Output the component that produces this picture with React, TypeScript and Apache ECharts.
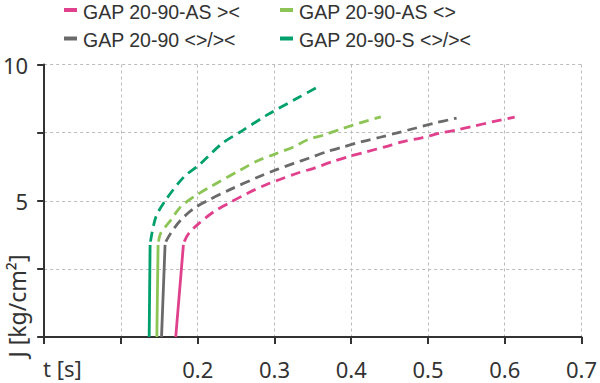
import React, { useEffect, useRef } from "react";
import * as echarts from "echarts";

const FONT = "Noto Sans";
const LEGEND_FONT = "Liberation Sans";

const NAME_PINK = "GAP 20-90-AS ><";
const NAME_LIGHT = "GAP 20-90-AS <>";
const NAME_GRAY = "GAP 20-90 <>/><";
const NAME_GREEN = "GAP 20-90-S <>/><";

const COLOR_PINK = "#e0408c";
const COLOR_LIGHT = "#8cc556";
const COLOR_GRAY = "#6a6a6a";
const COLOR_GREEN = "#00a06c";

const xTicks = [0, 0.1, 0.2, 0.3, 0.4, 0.5, 0.6, 0.7];
const yLabelled = [5, 10];

const greenSolid = [[0.1368, 0], [0.138, 3.38]];
const greenDashed = [
  [0.1385, 3.5], [0.1455, 4.4], [0.1584, 5.03], [0.1822, 5.88], [0.2017, 6.31],
  [0.2321, 7.11], [0.2558, 7.53], [0.2905, 8.15], [0.3295, 8.76], [0.3575, 9.19],
];

const lightSolid = [[0.1468, 0], [0.1484, 3.38]];
const lightDashed = [
  [0.149, 3.5], [0.1519, 3.81], [0.1649, 4.29], [0.1779, 4.78], [0.1952, 5.15],
  [0.2169, 5.52], [0.2558, 6.13], [0.2775, 6.46], [0.3013, 6.72], [0.3251, 6.98],
  [0.3425, 7.23], [0.364, 7.41], [0.39, 7.66], [0.4117, 7.86], [0.4386, 8.08],
];

const graySolid = [[0.1529, 0], [0.1575, 3.38]];
const grayDashed = [
  [0.1585, 3.5], [0.1649, 3.81], [0.1779, 4.29], [0.1952, 4.72], [0.2147, 5.03],
  [0.2406, 5.39], [0.2796, 5.88], [0.3035, 6.15], [0.3251, 6.37], [0.3445, 6.56],
  [0.3684, 6.8], [0.39, 6.98], [0.4139, 7.17], [0.4377, 7.33], [0.4614, 7.5],
  [0.4831, 7.66], [0.5069, 7.84], [0.5373, 8.03],
];

const pinkSolid = [[0.1714, 0], [0.1814, 3.38]];
const pinkDashed = [
  [0.1825, 3.5], [0.1887, 3.81], [0.2017, 4.17], [0.2212, 4.6], [0.2406, 4.91],
  [0.2645, 5.27], [0.2883, 5.58], [0.3078, 5.79], [0.3295, 6.01], [0.351, 6.19],
  [0.3749, 6.43], [0.3965, 6.62], [0.4204, 6.8], [0.4442, 6.98], [0.4679, 7.17],
  [0.4918, 7.31], [0.5156, 7.48], [0.5373, 7.6], [0.561, 7.75], [0.5848, 7.9],
  [0.613, 8.07],
];

// legend entries: [name, colour, column, row]
const legendItems: [string, string, number, number][] = [
  [NAME_PINK, COLOR_PINK, 0, 0],
  [NAME_LIGHT, COLOR_LIGHT, 1, 0],
  [NAME_GRAY, COLOR_GRAY, 0, 1],
  [NAME_GREEN, COLOR_GREEN, 1, 1],
];

function solid(name: string, color: string, data: number[][]) {
  return {
    type: "line",
    name,
    data,
    symbol: "none",
    itemStyle: { color },
    lineStyle: { color, width: 2.8, type: "solid" },
    z: 3,
  };
}

function dashed(name: string, color: string, data: number[][]) {
  return {
    type: "line",
    name,
    data,
    symbol: "none",
    smooth: 0.3,
    itemStyle: { color },
    lineStyle: { color, width: 2.8, type: [10, 6] },
    z: 3,
  };
}

export default function App() {
  const ref = useRef<HTMLDivElement>(null);
  useEffect(() => {
    if (!ref.current) return;
    const chart = echarts.init(ref.current, undefined, { renderer: "svg" });

    const colX = [64, 280];
    const rowY = [11.5, 40];
    const legendGraphics: any[] = [];
    legendItems.forEach(([name, color, c, r]) => {
      legendGraphics.push({
        type: "rect",
        shape: { x: colX[c], y: rowY[r] - 3.5, width: 13, height: 4 },
        style: { fill: color },
      });
      legendGraphics.push({
        type: "text",
        x: colX[c] + 19,
        y: rowY[r],
        style: {
          text: name,
          font: `19.5px "${LEGEND_FONT}"`,
          fill: "#333",
          verticalAlign: "middle",
        },
      });
    });

    chart.setOption({
      animation: false,
      backgroundColor: "#ffffff",
      textStyle: { fontFamily: FONT },
      grid: { left: 43, right: 18, top: 64.5, bottom: 46, containLabel: false },
      xAxis: {
        type: "value",
        min: xTicks[0],
        max: xTicks[xTicks.length - 1],
        interval: 0.1,
        axisLine: { show: true, lineStyle: { color: "#333", width: 2 } },
        axisTick: { show: true, length: 7, lineStyle: { color: "#333", width: 2 } },
        axisLabel: {
          margin: 21,
          fontSize: 22,
          fontFamily: FONT,
          color: "#333",
          formatter: (v: number) => (v < 0.15 ? "" : v.toFixed(1)),
        },
        splitLine: { show: true, lineStyle: { color: "#bbbbbb", width: 1, type: [3, 3] } },
      },
      yAxis: {
        type: "value",
        min: 0,
        max: 10,
        interval: 2.5,
        axisLine: { show: true, lineStyle: { color: "#333", width: 2 } },
        axisTick: { show: true, length: 7, lineStyle: { color: "#333", width: 2 } },
        axisLabel: {
          margin: 16,
          fontSize: 22,
          fontFamily: FONT,
          color: "#333",
          formatter: (v: number) => (yLabelled.indexOf(v) >= 0 ? String(v) : ""),
        },
        splitLine: { show: true, lineStyle: { color: "#bbbbbb", width: 1, type: [3, 3] } },
      },
      graphic: [
        ...legendGraphics,
        {
          type: "text",
          left: 43,
          top: 357,
          style: { text: "t [s]", font: `22px "${FONT}"`, fill: "#333" },
        },
        {
          type: "text",
          x: 16.5,
          y: 306,
          rotation: Math.PI / 2,
          style: {
            text: "J [kg/cm²]",
            font: `23px "${FONT}"`,
            fill: "#333",
            align: "center",
            verticalAlign: "middle",
          },
        },
      ],
      series: [
        solid(NAME_PINK, COLOR_PINK, pinkSolid),
        dashed(NAME_PINK, COLOR_PINK, pinkDashed),
        solid(NAME_LIGHT, COLOR_LIGHT, lightSolid),
        dashed(NAME_LIGHT, COLOR_LIGHT, lightDashed),
        solid(NAME_GRAY, COLOR_GRAY, graySolid),
        dashed(NAME_GRAY, COLOR_GRAY, grayDashed),
        solid(NAME_GREEN, COLOR_GREEN, greenSolid),
        dashed(NAME_GREEN, COLOR_GREEN, greenDashed),
      ],
    });
    return () => chart.dispose();
  }, []);
  return (
    <div
      ref={ref}
      style={{ position: "fixed", left: 0, top: 0, width: 600, height: 383 }}
    />
  );
}
